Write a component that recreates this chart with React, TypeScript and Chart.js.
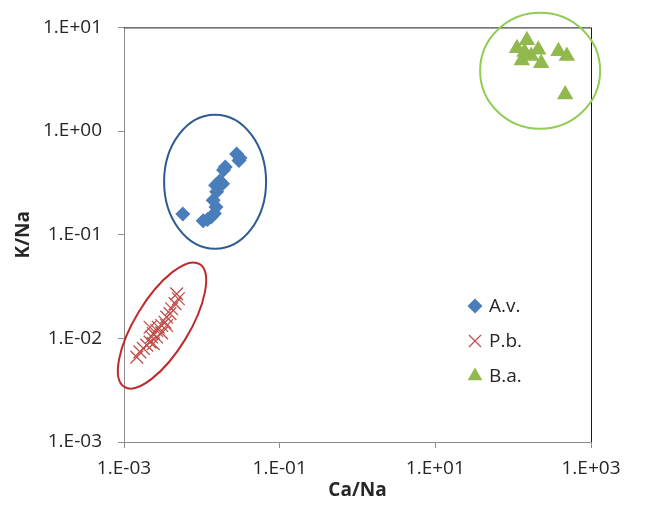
import React, { useEffect, useRef } from 'react';
import { Chart, registerables } from 'chart.js';
import { drawPoint } from 'chart.js/helpers';

Chart.register(...registerables);

// ---- Data ----
const seriesNames = ['A.v.', 'P.b.', 'B.a.'];

const avCaNa = [0.0057, 0.0104, 0.0118, 0.0132, 0.0145, 0.0152, 0.0140, 0.0155, 0.0150, 0.0170, 0.0185, 0.0200, 0.0190, 0.0280, 0.0310, 0.0300];
const avKNa = [0.158, 0.136, 0.140, 0.148, 0.160, 0.185, 0.215, 0.260, 0.300, 0.330, 0.310, 0.450, 0.420, 0.600, 0.550, 0.520];

const pbCaNa = [0.00146, 0.0016, 0.00177, 0.00196, 0.00216, 0.00227, 0.00238, 0.00263, 0.00276, 0.00305, 0.00337, 0.00354, 0.0039, 0.0041, 0.00453, 0.00499, 0.00475, 0.00216, 0.00263, 0.00305, 0.00238, 0.00354];
const pbKNa = [0.0066, 0.0074, 0.0080, 0.0086, 0.0092, 0.0103, 0.0111, 0.0119, 0.0128, 0.0133, 0.0143, 0.0160, 0.0173, 0.0193, 0.0216, 0.0241, 0.0269, 0.0128, 0.0103, 0.0113, 0.0089, 0.0133];

const baCaNa = [112, 150, 210, 129, 170, 229, 382, 490, 466, 140];
const baKNa = [6.3, 7.5, 6.1, 4.8, 5.3, 4.5, 5.9, 5.3, 2.25, 5.8];

const xTickValues = [1e-3, 1e-1, 1e1, 1e3];
const yTickValues = [1e-3, 1e-2, 1e-1, 1e0, 1e1];

// group outlines: centre in data units
const groupCentreX = [0.0148, 0.00308, 222];
const groupCentreY = [0.324, 0.0133, 3.82];

const FONT = "'Open Sans', 'Liberation Sans', sans-serif";
const TEXT = '#262626';
const AXIS = '#8c8c8c';

const fmtExp = (v: number) => {
  const e = Math.round(Math.log10(v));
  const s = e < 0 ? '-' : '+';
  const a = Math.abs(e);
  return `1.E${s}${a < 10 ? '0' : ''}${a}`;
};

const toPts = (xs: number[], ys: number[]) => xs.map((x, i) => ({ x, y: ys[i] }));

export default function App() {
  const ref = useRef<HTMLCanvasElement | null>(null);

  useEffect(() => {
    if (!ref.current) return;
    document.body.style.margin = '0';

    const styles = [
      { color: '#4a7ebb', ellipse: '#2e5b93', style: 'rectRot', radius: 7.5, border: 0 },
      { color: '#c0504d', ellipse: '#c02a2e', style: 'crossRot', radius: 9, border: 1.3 },
      { color: '#92b94e', ellipse: '#92cc55', style: 'triangle', radius: 9.5, border: 0 },
    ];
    // ellipse shape (px) and tilt
    const shapes = [
      { rx: 51, ry: 67, rot: 0 },
      { rx: 27, ry: 72, rot: 0.55 },
      { rx: 60, ry: 58, rot: 0 },
    ];

    const decor = {
      id: 'decor',
      beforeDatasetsDraw(chart: any) {
        const { ctx, chartArea: a, scales } = chart;
        ctx.save();
        // frame top / right
        ctx.strokeStyle = '#1a1a1a';
        ctx.lineWidth = 1;
        ctx.beginPath();
        ctx.moveTo(a.left, a.top + 0.5);
        ctx.lineTo(a.right + 0.5, a.top + 0.5);
        ctx.lineTo(a.right + 0.5, a.bottom);
        ctx.stroke();
        // group ellipses
        shapes.forEach((s, i) => {
          const cx = scales.x.getPixelForValue(groupCentreX[i]);
          const cy = scales.y.getPixelForValue(groupCentreY[i]);
          ctx.beginPath();
          ctx.ellipse(cx, cy, s.rx, s.ry, s.rot, 0, Math.PI * 2);
          ctx.strokeStyle = styles[i].ellipse;
          ctx.lineWidth = 2;
          ctx.stroke();
        });
        ctx.restore();
      },
      afterDraw(chart: any) {
        const { ctx } = chart;
        ctx.save();
        const lx = 475;
        const tx = 489;
        const y0 = 306;
        const dy = 35;
        chart.data.datasets.forEach((ds: any, i: number) => {
          const y = y0 + i * dy;
          ctx.fillStyle = ds.backgroundColor;
          ctx.strokeStyle = ds.borderColor;
          ctx.lineWidth = ds.borderWidth || 0.001;
          const r = Math.min(ds.pointRadius, 8.5);
          drawPoint(ctx, { pointStyle: ds.pointStyle, radius: r, rotation: 0, borderWidth: ds.borderWidth }, lx, y);
          ctx.fillStyle = TEXT;
          ctx.font = `19px ${FONT}`;
          ctx.textAlign = 'left';
          ctx.textBaseline = 'middle';
          ctx.fillText(ds.label, tx, y + 1);
        });
        ctx.restore();
      },
    };

    const datasets = [
      toPts(avCaNa, avKNa),
      toPts(pbCaNa, pbKNa),
      toPts(baCaNa, baKNa),
    ].map((data, i) => ({
      label: seriesNames[i],
      data,
      pointStyle: styles[i].style,
      pointRadius: styles[i].radius,
      pointHoverRadius: styles[i].radius,
      backgroundColor: styles[i].color,
      borderColor: styles[i].color,
      borderWidth: styles[i].border,
      showLine: false,
    }));

    const chart = new Chart(ref.current, {
      type: 'scatter',
      data: { datasets },
      plugins: [decor],
      options: {
        animation: false,
        responsive: false,
        maintainAspectRatio: false,
        layout: { padding: { top: 26, right: 55, bottom: 0, left: 0 } },
        plugins: {
          legend: { display: false },
          tooltip: { enabled: false },
        },
        scales: {
          x: {
            type: 'logarithmic',
            min: 1e-3,
            max: 1e3,
            afterBuildTicks: (s: any) => { s.ticks = xTickValues.map((v) => ({ value: v })); },
            afterFit: (s: any) => { s.height = 63; },
            grid: { display: true, drawOnChartArea: false, drawTicks: true, tickLength: 6, color: AXIS, tickColor: AXIS },
            border: { display: true, color: AXIS, width: 1 },
            ticks: {
              callback: (v: any) => fmtExp(Number(v)),
              font: { family: FONT, size: 19 },
              color: TEXT,
              padding: 9,
              maxRotation: 0,
              autoSkip: false,
            },
            title: {
              display: true,
              text: 'Ca/Na',
              font: { family: FONT, size: 19, weight: 'bold' },
              color: TEXT,
              padding: { top: 0, bottom: 3 },
            },
          },
          y: {
            type: 'logarithmic',
            min: 1e-3,
            max: 1e1,
            afterBuildTicks: (s: any) => { s.ticks = yTickValues.map((v) => ({ value: v })); },
            afterFit: (s: any) => { s.width = 124; },
            grid: { display: true, drawOnChartArea: false, drawTicks: true, tickLength: 6, color: AXIS, tickColor: AXIS },
            border: { display: true, color: AXIS, width: 1 },
            ticks: {
              callback: (v: any) => fmtExp(Number(v)),
              font: { family: FONT, size: 19 },
              color: TEXT,
              padding: 16,
              autoSkip: false,
            },
            title: {
              display: true,
              text: 'K/Na',
              font: { family: FONT, size: 19, weight: 'bold' },
              color: TEXT,
              padding: { top: 12, bottom: 0 },
            },
          },
        },
      } as any,
    });
    return () => chart.destroy();
  }, []);

  return (
    <div style={{ position: 'absolute', left: 0, top: 0, width: 646, height: 505, background: '#fff' }}>
      <canvas ref={ref} width={646} height={505} style={{ width: 646, height: 505, display: 'block' }} />
    </div>
  );
}
